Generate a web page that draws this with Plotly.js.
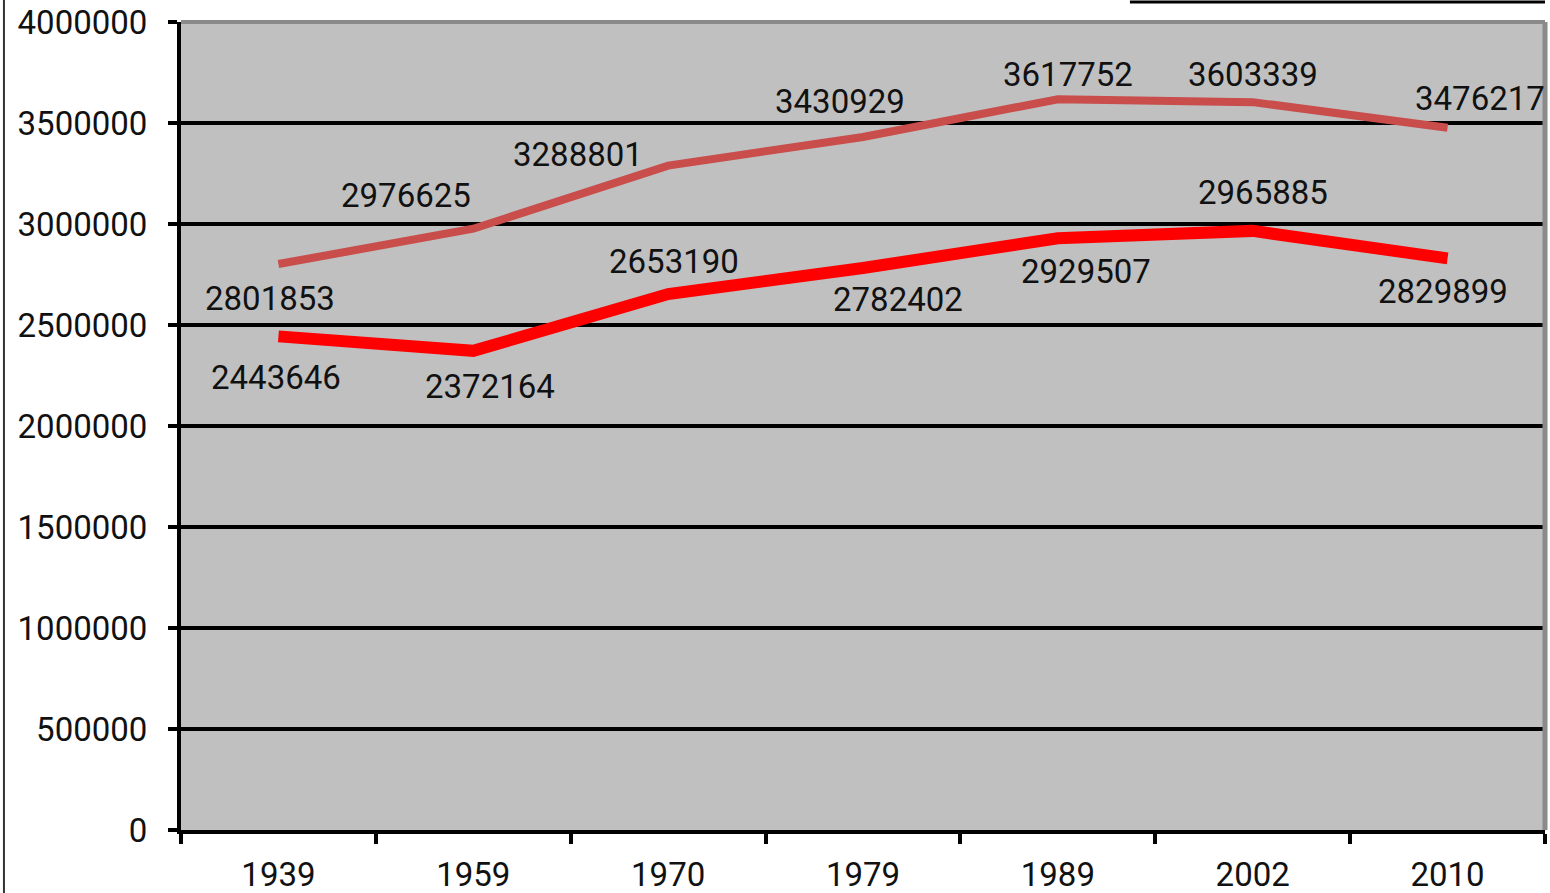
<!DOCTYPE html>
<html>
<head>
<meta charset="utf-8">
<script src="https://cdn.plot.ly/plotly-3.0.1.min.js"></script>
<style>
html,body{margin:0;padding:0;background:#fff;}
#chart{width:1550px;height:893px;}
</style>
</head>
<body>
<div id="chart"></div>
<script>
// Data
const years = ["1939", "1959", "1970", "1979", "1989", "2002", "2010"];
const upperSeries = [2801853, 2976625, 3288801, 3430929, 3617752, 3603339, 3476217];
const lowerSeries = [2443646, 2372164, 2653190, 2782402, 2929507, 2965885, 2829899];
const yTickVals = [0, 500000, 1000000, 1500000, 2000000, 2500000, 3000000, 3500000, 4000000];
const yTickText = ["0", "500000", "1000000", "1500000", "2000000", "2500000", "3000000", "3500000", "4000000"];

// Label offsets (pixels) - styling only
const upperShift = [[-8,-34],[-67,33],[-90,11],[-23,35],[10,25],[0,28],[32,29]];
const lowerShift = [[-2,-41],[17,-36],[6,33],[35,-32],[28,-33],[10,38],[-5,-33]];

const fontFam = "Roboto, 'DejaVu Sans', sans-serif";
const labelFont = {family: fontFam, size: 33, color: "#111"};

const annotations = [];
years.forEach((yr, i) => {
  annotations.push({x: i, y: upperSeries[i], xref: "x", yref: "y", text: String(upperSeries[i]),
    showarrow: false, xshift: upperShift[i][0], yshift: upperShift[i][1], font: labelFont});
  annotations.push({x: i, y: lowerSeries[i], xref: "x", yref: "y", text: String(lowerSeries[i]),
    showarrow: false, xshift: lowerShift[i][0], yshift: lowerShift[i][1], font: labelFont});
});

const traces = [
  {x: years, y: upperSeries, type: "scatter", mode: "lines",
   line: {color: "#c84d4b", width: 8}, hoverinfo: "skip"},
  {x: years, y: lowerSeries, type: "scatter", mode: "lines",
   line: {color: "#ff0000", width: 12}, hoverinfo: "skip"}
];

const layout = {
  width: 1550, height: 893,
  margin: {l: 181, r: 5, t: 22, b: 63, pad: 0},
  paper_bgcolor: "#ffffff",
  plot_bgcolor: "#c0c0c0",
  showlegend: false,
  xaxis: {
    type: "category",
    tickson: "boundaries",
    ticks: "outside", ticklen: 10, tickwidth: 4, tickcolor: "#000",
    showline: true, linecolor: "#000", linewidth: 4,
    showgrid: false, zeroline: false,
    tickfont: {family: fontFam, size: 33, color: "#111"},
    ticklabelstandoff: 12,
    range: [-0.5, 6.5]
  },
  yaxis: {
    range: [0, 4000000],
    tickvals: yTickVals, ticktext: yTickText,
    ticks: "outside", ticklen: 9, tickwidth: 4, tickcolor: "#000",
    showline: true, linecolor: "#000", linewidth: 4,
    showgrid: true, gridcolor: "#000", gridwidth: 4,
    zeroline: false,
    tickfont: {family: fontFam, size: 33, color: "#111"},
    ticklabelstandoff: 14
  },
  annotations: annotations,
  shapes: [
    {type: "line", xref: "paper", yref: "paper", x0: 0, x1: 1, y0: 1, y1: 1,
     line: {color: "#8a8a8a", width: 4}, layer: "above"},
    {type: "line", xref: "paper", yref: "paper", x0: 1, x1: 1, y0: 0, y1: 1,
     line: {color: "#8a8a8a", width: 5}, layer: "above"},
    {type: "line", xref: "paper", yref: "paper", x0: -0.1298, x1: -0.1298, y0: -0.08, y1: 1.03,
     line: {color: "#333", width: 2}},
    {type: "line", xref: "paper", yref: "paper", x0: 0.6957, x1: 1.0, y0: 1.0248, y1: 1.0248,
     line: {color: "#000", width: 3}}
  ]
};

Plotly.newPlot("chart", traces, layout, {displayModeBar: false, staticPlot: true});
</script>
</body>
</html>
